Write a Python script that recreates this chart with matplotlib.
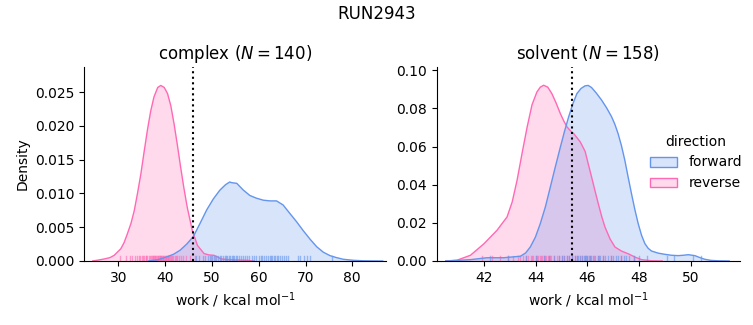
import numpy as np
import matplotlib
matplotlib.use("Agg")
import matplotlib.pyplot as plt
from matplotlib.patches import Patch

# --- density curves (work, density) ---
cx_rev_x = [24.5, 25.4, 27.0, 28.2, 29.1, 30.5, 31.2, 31.9, 32.7, 33.4, 34.1, 34.8, 35.5, 36.2, 36.9,
            37.6, 38.4, 39.06, 39.8, 40.5, 41.2, 41.9, 42.6, 43.3, 44.0, 44.7, 45.8, 46.9, 48.3, 49.3,
            50.4, 51.2, 51.9, 53.5, 55.5, 57.4, 59.0]
cx_rev_y = [0.0, 0.0001, 0.0003, 0.0005, 0.00084, 0.0018, 0.0027, 0.0040, 0.0056, 0.0075, 0.0101, 0.0129,
            0.0162, 0.0194, 0.0222, 0.0243, 0.0257, 0.0260, 0.0257, 0.0248, 0.0230, 0.0203, 0.0172,
            0.0139, 0.0108, 0.0080, 0.0045, 0.0023, 0.0011, 0.0009, 0.00084, 0.0006, 0.0003, 0.0002,
            0.00015, 0.0001, 0.0]
cx_fwd_x = [36.5, 38.5, 40.3, 41.8, 43.2, 44.6, 46.0, 47.4, 48.9, 50.3, 51.7, 52.9, 53.8, 54.2, 55.3,
            56.7, 58.1, 59.5, 61.0, 62.4, 63.8, 65.2, 66.7, 68.1, 69.5, 71.0, 72.4, 73.8, 75.2, 76.6,
            78.1, 80.2, 82.4, 84.5, 86.5]
cx_fwd_y = [0.0, 0.0002, 0.0006, 0.0010, 0.0016, 0.0025, 0.0036, 0.0055, 0.0076, 0.0092, 0.0105, 0.0113,
            0.0117, 0.0116, 0.0115, 0.0105, 0.0097, 0.0093, 0.0090, 0.0089, 0.0089, 0.0083, 0.0070,
            0.0058, 0.0045, 0.0032, 0.0021, 0.0013, 0.0008, 0.0005, 0.00025, 0.0001, 0.00003, 0.00001, 0.0]

sv_rev_x = [40.5, 40.94, 41.46, 41.98, 42.49, 42.88, 43.08, 43.27, 43.47, 43.66, 43.85, 44.04, 44.17,
            44.30, 44.46, 44.62, 44.78, 44.95, 45.08, 45.21, 45.34, 45.47, 45.72, 45.91, 46.03, 46.16,
            46.29, 46.42, 46.55, 46.68, 46.88, 47.07, 47.32, 47.58, 47.85, 48.10, 48.49, 48.9]
sv_rev_y = [0.0, 0.0004, 0.003, 0.009, 0.0161, 0.0231, 0.031, 0.0424, 0.057, 0.0703, 0.082, 0.0887, 0.0912,
            0.0922, 0.0912, 0.0878, 0.0830, 0.0773, 0.0735, 0.0703, 0.0683, 0.0668, 0.0625, 0.0575, 0.051,
            0.0441, 0.037, 0.0301, 0.0235, 0.0178, 0.0115, 0.0073, 0.0052, 0.0038, 0.0020, 0.0007, 0.0001, 0.0]
sv_fwd_x = [40.5, 40.8, 41.46, 42.1, 42.75, 43.40, 43.6, 43.78, 43.98, 44.17, 44.37, 44.56, 44.75, 44.95,
            45.11, 45.27, 45.43, 45.59, 45.75, 45.91, 46.03, 46.16, 46.35, 46.55, 46.75, 46.94, 47.07,
            47.19, 47.32, 47.45, 47.58, 47.71, 47.84, 47.97, 48.10, 48.23, 48.36, 48.49, 48.75, 49.00,
            49.26, 49.52, 49.72, 49.91, 50.17, 50.36, 50.55, 50.8, 51.07, 51.5]
sv_fwd_y = [0.0, 0.0002, 0.0007, 0.0017, 0.0017, 0.0025, 0.0042, 0.0073, 0.0125, 0.0196, 0.0285, 0.0388,
            0.0492, 0.0598, 0.0680, 0.0756, 0.0823, 0.0878, 0.0905, 0.0919, 0.0921, 0.0910, 0.0880, 0.0844,
            0.0802, 0.0756, 0.0715, 0.0668, 0.0605, 0.0529, 0.0440, 0.0353, 0.0270, 0.0196, 0.0135, 0.0091,
            0.0066, 0.0052, 0.0041, 0.0035, 0.0030, 0.0028, 0.0030, 0.0033, 0.0028, 0.0018, 0.0009, 0.0003,
            0.0001, 0.0]

# --- individual work values (rug), read approximately ---
cx_rev_rug = [30.3, 31.6, 32.4, 33.0, 33.5, 33.9, 34.3, 34.6, 35.0, 35.2, 35.5, 35.8, 36.0, 36.2, 36.5,
              36.7, 36.9, 37.1, 37.3, 37.4, 37.6, 37.8, 37.9, 38.1, 38.2, 38.4, 38.5, 38.7, 38.8, 38.9,
              39.1, 39.2, 39.3, 39.5, 39.6, 39.8, 39.9, 40.1, 40.2, 40.4, 40.5, 40.7, 40.9, 41.1, 41.3,
              41.5, 41.7, 42.0, 42.3, 42.6, 43.0, 43.4, 43.9, 44.5, 45.2, 46.3, 49.8, 50.6]
cx_fwd_rug = [46.5, 47.3, 48.0, 48.6, 49.1, 49.6, 50.0, 50.5, 50.9, 51.3, 51.7, 52.0, 52.4, 52.7, 53.0,
              53.3, 53.6, 53.9, 54.2, 54.5, 54.8, 55.1, 55.4, 55.8, 56.2, 56.6, 57.0, 57.5, 58.0, 58.5,
              59.0, 59.5, 60.0, 60.4, 60.8, 61.2, 61.6, 62.0, 62.3, 62.6, 62.9, 63.2, 63.5, 63.8, 64.1,
              64.5, 64.9, 65.3, 65.8, 66.3, 68.4, 68.9, 69.6, 70.4, 71.0, 75.7]
sv_rev_rug = [41.9, 42.3, 42.6, 42.9, 43.1, 43.3, 43.4, 43.5, 43.6, 43.7, 43.8, 43.85, 43.9, 44.0, 44.05,
              44.1, 44.15, 44.2, 44.25, 44.3, 44.35, 44.4, 44.45, 44.5, 44.55, 44.6, 44.7, 44.8, 44.9,
              45.0, 45.1, 45.2, 45.3, 45.4, 45.5, 45.6, 45.7, 45.8, 45.9, 46.0, 46.1, 46.25, 46.4, 46.6,
              46.9, 47.3, 47.8]
sv_fwd_rug = [42.2, 42.9, 43.6, 44.0, 44.3, 44.5, 44.7, 44.9, 45.0, 45.1, 45.2, 45.3, 45.4, 45.5, 45.6,
              45.65, 45.7, 45.8, 45.85, 45.9, 45.95, 46.0, 46.05, 46.1, 46.15, 46.2, 46.3, 46.4, 46.45,
              46.5, 46.6, 46.7, 46.8, 46.9, 47.0, 47.1, 47.2, 47.3, 47.4, 47.5, 47.6, 47.8, 48.0, 48.3,
              49.1, 49.35, 50.1, 50.4]

cx_mean = 46.0
sv_mean = 45.4

FWD = "cornflowerblue"
REV = "hotpink"


def draw_panel(ax, fwd, rev, fwd_rug, rev_rug, vline, title):
    # reverse first, forward on top (like seaborn's hue layering)
    for (x, y), rug, c in [(rev, rev_rug, REV), (fwd, fwd_rug, FWD)]:
        ax.fill_between(x, 0, y, facecolor=c, alpha=0.25, lw=0)
        ax.plot(x, y, color=c, lw=1)
        trans = ax.get_xaxis_transform()
        for v in rug:
            ax.plot([v, v], [0, 0.025], color=c, lw=1, alpha=0.6, transform=trans)
    ax.axvline(vline, color="k", ls=":", lw=1.5)
    ax.set_title(title)
    ax.set_xlabel("work / kcal mol$^{-1}$")
    for s in ["top", "right"]:
        ax.spines[s].set_visible(False)


fig = plt.figure(figsize=(7.53, 3.25), dpi=100)
ax1 = fig.add_axes([0.1116, 0.197, 0.401, 0.597])
ax2 = fig.add_axes([0.5803, 0.197, 0.4024, 0.597])

draw_panel(ax1, (cx_fwd_x, cx_fwd_y), (cx_rev_x, cx_rev_y), cx_fwd_rug, cx_rev_rug,
           cx_mean, "complex ($N = 140$)")
draw_panel(ax2, (sv_fwd_x, sv_fwd_y), (sv_rev_x, sv_rev_y), sv_fwd_rug, sv_rev_rug,
           sv_mean, "solvent ($N = 158$)")

ax1.set_xlim(22.65, 87.2)
ax1.set_ylim(0, 0.02874)
ax1.set_yticks([0, 0.005, 0.01, 0.015, 0.02, 0.025])
ax1.set_yticklabels(["0.000", "0.005", "0.010", "0.015", "0.020", "0.025"])
ax1.set_ylabel("Density")

ax2.set_xlim(40.16, 51.92)
ax2.set_ylim(0, 0.1018)
ax2.set_xticks([42, 44, 46, 48, 50])
ax2.set_yticks([0, 0.02, 0.04, 0.06, 0.08, 0.1])
ax2.set_yticklabels(["0.00", "0.02", "0.04", "0.06", "0.08", "0.10"])

handles = [Patch(facecolor=matplotlib.colors.to_rgba(c, 0.25), edgecolor=c, lw=1)
           for c in (FWD, REV)]
fig.legend(handles, ["forward", "reverse"], title="direction", frameon=False,
           loc="center left", bbox_to_anchor=(0.846, 0.5))

fig.suptitle("RUN2943", y=0.985)
fig.savefig("out.png", dpi=100)
